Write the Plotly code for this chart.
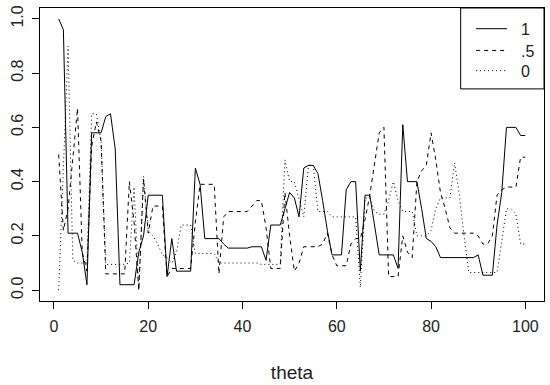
import plotly.graph_objects as go

theta = list(range(1, 101))

p_1 = [1.00, 0.96, 0.21, 0.21, 0.21, 0.14, 0.02, 0.58, 0.58, 0.58,
       0.64, 0.65, 0.52, 0.02, 0.02, 0.02, 0.02, 0.14, 0.20, 0.35,
       0.35, 0.35, 0.35, 0.05, 0.19, 0.07, 0.07, 0.07, 0.07, 0.45,
       0.39, 0.19, 0.19, 0.19, 0.19, 0.17, 0.155, 0.155, 0.155, 0.155,
       0.155, 0.16, 0.16, 0.16, 0.11, 0.24, 0.24, 0.24, 0.30, 0.36,
       0.34, 0.27, 0.45, 0.46, 0.46, 0.43, 0.33, 0.22, 0.13, 0.13,
       0.13, 0.37, 0.40, 0.40, 0.07, 0.35, 0.35, 0.24, 0.13, 0.13,
       0.13, 0.13, 0.08, 0.61, 0.40, 0.40, 0.40, 0.30, 0.19, 0.18,
       0.16, 0.12, 0.12, 0.12, 0.12, 0.12, 0.12, 0.12, 0.12, 0.13,
       0.055, 0.055, 0.055, 0.24, 0.36, 0.60, 0.60, 0.60, 0.57, 0.57]

p_05 = [0.50, 0.22, 0.30, 0.48, 0.67, 0.14, 0.07, 0.53, 0.62, 0.55,
        0.06, 0.06, 0.06, 0.06, 0.06, 0.40, 0.25, 0.00, 0.41, 0.21,
        0.31, 0.31, 0.31, 0.05, 0.08, 0.08, 0.08, 0.08, 0.08, 0.25,
        0.39, 0.39, 0.39, 0.39, 0.06, 0.27, 0.29, 0.29, 0.29, 0.29,
        0.29, 0.31, 0.33, 0.33, 0.23, 0.08, 0.08, 0.08, 0.36, 0.20,
        0.07, 0.10, 0.16, 0.16, 0.16, 0.16, 0.17, 0.21, 0.13, 0.09,
        0.09, 0.09, 0.17, 0.19, 0.19, 0.26, 0.35, 0.47, 0.58, 0.60,
        0.05, 0.05, 0.05, 0.20, 0.14, 0.12, 0.40, 0.44, 0.46, 0.58,
        0.48, 0.36, 0.30, 0.23, 0.21, 0.21, 0.21, 0.21, 0.21, 0.20,
        0.17, 0.17, 0.20, 0.35, 0.37, 0.38, 0.38, 0.38, 0.49, 0.49]

p_0 = [0.00, 0.48, 0.90, 0.11, 0.10, 0.10, 0.10, 0.65, 0.65, 0.55,
       0.095, 0.095, 0.095, 0.095, 0.095, 0.10, 0.38, 0.00, 0.42, 0.22,
       0.20, 0.17, 0.13, 0.12, 0.10, 0.14, 0.24, 0.24, 0.24, 0.135,
       0.135, 0.135, 0.135, 0.135, 0.10, 0.10, 0.10, 0.10, 0.10, 0.10,
       0.10, 0.10, 0.10, 0.095, 0.095, 0.095, 0.095, 0.095, 0.48, 0.40,
       0.40, 0.33, 0.27, 0.46, 0.46, 0.29, 0.29, 0.29, 0.27, 0.27,
       0.27, 0.27, 0.27, 0.27, 0.01, 0.34, 0.34, 0.29, 0.28, 0.28,
       0.33, 0.40, 0.33, 0.29, 0.29, 0.29, 0.20, 0.20, 0.20, 0.22,
       0.30, 0.34, 0.34, 0.34, 0.47, 0.35, 0.20, 0.065, 0.065, 0.065,
       0.065, 0.065, 0.065, 0.065, 0.18, 0.30, 0.30, 0.28, 0.17, 0.17]

series_names = ["1", ".5", "0"]
series_dash = ["solid", "4px,4px", "1px,3px"]
series_values = [p_1, p_05, p_0]

x_ticks = [0, 20, 40, 60, 80, 100]
y_ticks = [0.0, 0.2, 0.4, 0.6, 0.8, 1.0]
y_ticktext = ["0.0", "0.2", "0.4", "0.6", "0.8", "1.0"]

W, H = 550, 385
ML, MR, MT, MB = 40, 5, 5, 83
PW, PH = W - ML - MR, H - MT - MB


def px_to_paper(px, py):
    return (px - ML) / PW, (H - MB - py) / PH


fig = go.Figure()
for name, dash, vals in zip(series_names, series_dash, series_values):
    fig.add_trace(go.Scatter(
        x=theta, y=vals, mode="lines", name=name,
        line=dict(color="black", width=1, dash=dash),
        showlegend=False,
    ))

font_family = "Liberation Sans, Arial, sans-serif"

# legend drawn as a box in the top-right corner (like R's legend("topright"))
shapes = []
annotations = []
bx0, by0 = px_to_paper(461.5, 87)
bx1, by1 = px_to_paper(545, 5)
shapes.append(dict(type="rect", xref="paper", yref="paper",
                   x0=bx0, y0=by0, x1=bx1, y1=by1,
                   line=dict(color="black", width=1), fillcolor="white",
                   layer="above"))
row_y = [26, 48, 68.5]
for name, dash, ry in zip(series_names, series_dash, row_y):
    lx0, ly = px_to_paper(477, ry)
    lx1, _ = px_to_paper(508, ry)
    shapes.append(dict(type="line", xref="paper", yref="paper",
                       x0=lx0, y0=ly, x1=lx1, y1=ly,
                       line=dict(color="black", width=1, dash=dash),
                       layer="above"))
    tx, ty = px_to_paper(520, ry + 1)
    annotations.append(dict(xref="paper", yref="paper", x=tx, y=ty,
                            text=name, showarrow=False,
                            xanchor="left", yanchor="middle",
                            font=dict(family=font_family, size=16, color="#222")))

fig.update_layout(
    width=W, height=H,
    margin=dict(l=ML, r=MR, t=MT, b=MB),
    paper_bgcolor="white", plot_bgcolor="white",
    font=dict(family=font_family, size=16, color="#222"),
    showlegend=False,
    shapes=shapes,
    annotations=annotations,
    xaxis=dict(
        range=[-2.96, 103.96], tickvals=x_ticks,
        ticks="outside", ticklen=7, tickcolor="black", tickwidth=1,
        ticklabelstandoff=4,
        showgrid=False, zeroline=False,
        showline=True, mirror=True, linecolor="black", linewidth=1,
        title=dict(text="theta", standoff=31),
        tickfont=dict(size=16),
    ),
    yaxis=dict(
        range=[-0.04, 1.04], tickvals=y_ticks, ticktext=y_ticktext,
        ticks="outside", ticklen=7, tickcolor="black", tickwidth=1,
        ticklabelstandoff=3,
        tickangle=-90,
        showgrid=False, zeroline=False,
        showline=True, mirror=True, linecolor="black", linewidth=1,
        tickfont=dict(size=16),
    ),
)

fig.write_html("out.html", config={"displayModeBar": False},
               post_script="document.body.style.margin='0px';")
